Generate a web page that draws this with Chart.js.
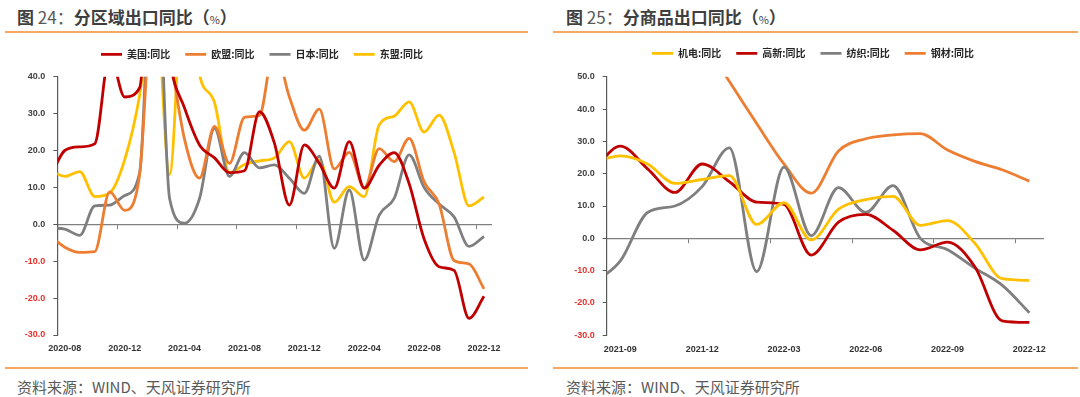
<!DOCTYPE html>
<html><head><meta charset="utf-8">
<script src="https://cdn.jsdelivr.net/npm/chart.js@4.4.1/dist/chart.umd.min.js"></script>
<style>
html,body{margin:0;padding:0;background:#fff}
body{width:1080px;height:397px;position:relative;overflow:hidden;font-family:"Noto Sans CJK SC","Noto Sans",sans-serif}
.title{position:absolute;top:5px;font-size:17px;line-height:23px;font-weight:bold;color:#3f3f3f;white-space:nowrap}
.title .n{font-weight:normal;color:#595959}
.title .p{font-size:11px;font-weight:normal}
.rule{position:absolute;height:2px;background:#f7a863}
.src{position:absolute;top:376px;font-size:15px;line-height:21px;color:#595959;white-space:nowrap}
.box{position:absolute;top:0;width:540px;height:397px}
</style></head><body>
<div class="title" style="left:17px">图<span class="n"> 24：</span>分区域出口同比（<span class="p">%</span>）</div>
<div class="title" style="left:566px">图<span class="n"> 25：</span>分商品出口同比（<span class="p">%</span>）</div>
<div class="rule" style="left:5px;top:31px;width:523px"></div>
<div class="rule" style="left:553px;top:31px;width:525px"></div>
<div class="rule" style="left:5px;top:367px;width:523px"></div>
<div class="rule" style="left:553px;top:367px;width:525px"></div>
<div class="src" style="left:17px">资料来源：WIND、天风证券研究所</div>
<div class="src" style="left:566px">资料来源：WIND、天风证券研究所</div>
<div class="box" style="left:0"><canvas id="c1" width="540" height="397"></canvas></div>
<div class="box" style="left:540px"><canvas id="c2" width="540" height="397"></canvas></div>
<script>
// ---- Figure 24: exports by region, YoY (%) ----
const regionMonths = ['2020-07','2020-08','2020-09','2020-10','2020-11','2020-12',
  '2021-01','2021-02','2021-03','2021-04','2021-05','2021-06','2021-07','2021-08','2021-09','2021-10','2021-11','2021-12',
  '2022-01','2022-02','2022-03','2022-04','2022-05','2022-06','2022-07','2022-08','2022-09','2022-10','2022-11','2022-12'];
const regionTickLabels = ['2020-08','2020-12','2021-04','2021-08','2021-12','2022-04','2022-08','2022-12'];
const usYoY    = [12.5,20,21,21.8,46,34.5,37,87,45,31.5,21.5,18,14,14.5,30.5,22,5.2,21.5,16.5,9.8,22.4,9.8,16,19.4,11,-4,-11.5,-12.5,-25.5,-19.5];
const euYoY    = [-3,-6.2,-7.6,-7.4,8.8,3.8,13.5,70,47,23,12.5,26.5,16.5,29,29.5,48,34.5,25.5,31.2,15,19.5,9.8,20.5,17,23.3,11.5,5.5,-9.8,-10.7,-17.5];
const jpYoY    = [-1,-1.3,-3,5,5.2,7.8,14,90,7,0.3,7,26,13,19.4,15.3,16.1,12.5,8.4,18.5,-6.5,9.3,-9.7,2.5,7,18.8,10,5.5,2,-6,-3.3];
const aseanYoY = [14.5,13,14.3,7.5,8.5,17.5,35,65,13.5,70,40.5,33,14,16.2,17.2,18,22.4,12.5,17.5,6,10.2,7.5,27,29.3,33.2,25,29.6,19.5,5,7.4];
const regionYMin = -30, regionYMax = 40;

// ---- Figure 25: exports by product, YoY (%) ----
const goodsMonths = ['2021-08','2021-09','2021-10','2021-11','2021-12','2022-01','2022-02','2022-03','2022-04',
  '2022-05','2022-06','2022-07','2022-08','2022-09','2022-10','2022-11','2022-12'];
const goodsTickLabels = ['2021-09','2021-12','2022-03','2022-06','2022-09','2022-12'];
const mechYoY    = [23.5,25.5,23,17,18.2,19.4,4.3,11,-0.5,9,12,13,4,5.5,-1.5,-12.5,-13];
const hiTechYoY  = [21,28.5,21.5,14.2,23,17.5,11.2,10.5,-5.2,5,7.4,2.5,-3.6,-1.2,-8.8,-25.5,-26];
const textileYoY = [-14,-7,8,10,16,28,-10.3,22,0.8,15.7,8,16.3,0,-3.5,-9.2,-14.5,-23];
const steelYoY   = [120,115,100,80,62,48.5,35.5,23,14,27,30.8,32,32.4,27.3,23.8,21.2,17.7];
const goodsYMin = -30, goodsYMax = 50;

const RED = '#c00000', ORANGE = '#ed7d31', GRAY = '#7f7f7f', YELLOW = '#ffc000';

function build(canvasId, months, tickLabels, series, yMin, yMax, L) {
  const base = months.indexOf(tickLabels[0]);
  const lastX = months.length - 1 - base;
  const tickVals = tickLabels.map(m => months.indexOf(m) - base);
  const step = tickVals[1] - tickVals[0];
  const bounds = tickVals.slice(0, -1).map(v => v + step - 0.5);
  const tickFont = {family: 'Liberation Sans', size: 9, weight: 'bold'};
  return new Chart(document.getElementById(canvasId), {
    type: 'line',
    data: {
      datasets: series.map(s => ({
        label: s.label,
        data: s.values.map((v, k) => ({x: k - base, y: v})),
        borderColor: s.color, backgroundColor: s.color,
        borderWidth: 2.8, pointRadius: 0, pointHoverRadius: 0,
        cubicInterpolationMode: 'monotone', fill: false,
        xAxisID: 'x', yAxisID: 'y'
      }))
    },
    options: {
      responsive: false, animation: false, devicePixelRatio: 1,
      layout: {padding: {top: L.top, left: L.padL, right: L.padR, bottom: L.padB}},
      plugins: {
        tooltip: {enabled: false},
        legend: {position: 'top', align: 'center',
          labels: {usePointStyle: true, pointStyle: 'line', pointStyleWidth: 21, padding: 15,
            color: '#262626', font: {family: 'Noto Sans CJK SC', size: 10, weight: 'bold'}}}
      },
      scales: {
        x: {type: 'linear', min: -0.5, max: lastX + 0.5, position: 'bottom',
          grid: {display: false, drawTicks: false}, border: {display: false},
          ticks: {autoSkip: false, maxRotation: 0, padding: L.tickPad, color: '#333333', font: tickFont,
            callback: v => months[Math.round(v) + base]},
          afterBuildTicks: s => { s.ticks = tickVals.map(v => ({value: v})); },
          afterFit: s => { s.height = 30; }},
        x0: {type: 'linear', axis: 'x', min: -0.5, max: lastX + 0.5, position: {y: 0},
          grid: {display: true, drawOnChartArea: false, drawTicks: true, tickLength: 4, color: '#7f7f7f', lineWidth: 1},
          border: {display: true, color: '#7f7f7f', width: 1.2},
          ticks: {display: false},
          afterBuildTicks: s => { s.ticks = bounds.map(v => ({value: v})); },
          afterFit: s => { s.height = 0; }},
        xt: {type: 'linear', axis: 'x', position: 'top',
          grid: {display: false}, border: {display: false}, ticks: {display: false},
          afterFit: s => { s.height = L.gap; }},
        y: {type: 'linear', min: yMin, max: yMax, position: 'left',
          ticks: {stepSize: 10, padding: 8, font: tickFont,
            color: c => (c.tick && c.tick.value < 0) ? '#e8302a' : '#404040',
            callback: v => Number(v).toFixed(1)},
          grid: {display: true, drawOnChartArea: false, drawTicks: true, tickLength: 4, color: '#595959'},
          border: {display: true, color: '#595959', width: 1.2},
          afterFit: s => { s.width = L.yW; }},
        yr: {type: 'linear', axis: 'y', position: 'right',
          grid: {display: false}, border: {display: false}, ticks: {display: false},
          afterFit: s => { s.width = L.rW; }}
      }
    }
  });
}

build('c1', regionMonths, regionTickLabels, [
  {label: '美国:同比', values: usYoY, color: RED},
  {label: '欧盟:同比', values: euYoY, color: ORANGE},
  {label: '日本:同比', values: jpYoY, color: GRAY},
  {label: '东盟:同比', values: aseanYoY, color: YELLOW}
], regionYMin, regionYMax, {top: 34.3, padL: 7.3, padR: 23.3, padB: 32, gap: 7.4, yW: 50, rW: 25.2, tickPad: 8.6});

build('c2', goodsMonths, goodsTickLabels, [
  {label: '机电:同比', values: mechYoY, color: YELLOW},
  {label: '高新:同比', values: hiTechYoY, color: RED},
  {label: '纺织:同比', values: textileYoY, color: GRAY},
  {label: '钢材:同比', values: steelYoY, color: ORANGE}
], goodsYMin, goodsYMax, {top: 33.3, padL: 16.7, padR: 10.7, padB: 31.7, gap: 8.4, yW: 50, rW: 26.3, tickPad: 9.3});
</script>
</body></html>
